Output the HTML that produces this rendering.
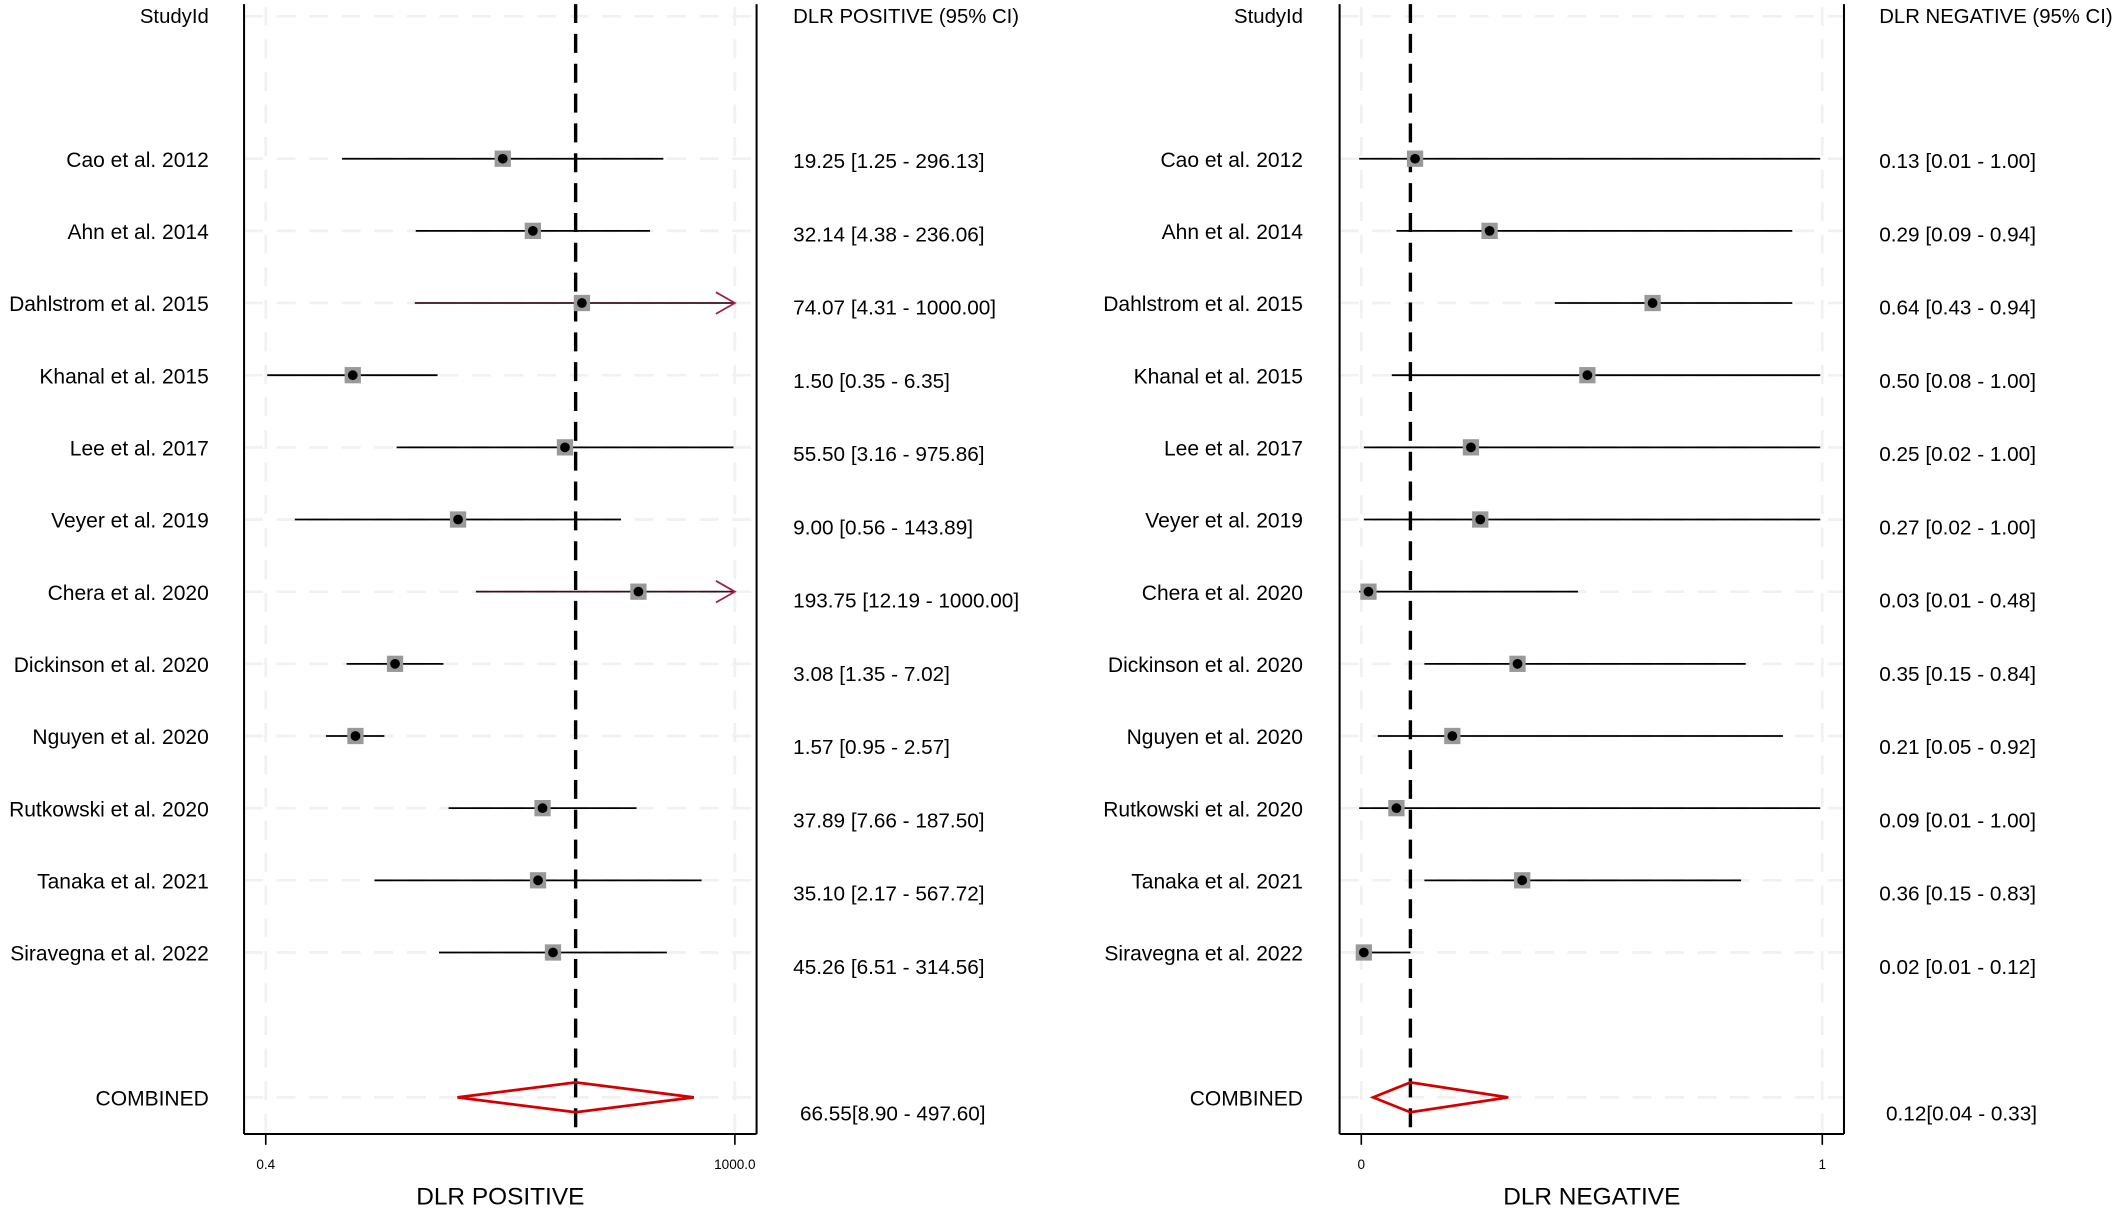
<!DOCTYPE html>
<html><head><meta charset="utf-8"><style>
html,body{margin:0;padding:0;background:#fff}
svg{display:block}
text{font-family:"Liberation Sans",sans-serif;fill:#000}
</style></head><body>
<svg id="chart" width="2126" height="1214" viewBox="0 0 1568 895" preserveAspectRatio="none" xmlns="http://www.w3.org/2000/svg"></svg>
<script>
const studies=["Cao et al. 2012","Ahn et al. 2014","Dahlstrom et al. 2015","Khanal et al. 2015","Lee et al. 2017","Veyer et al. 2019","Chera et al. 2020","Dickinson et al. 2020","Nguyen et al. 2020","Rutkowski et al. 2020","Tanaka et al. 2021","Siravegna et al. 2022"];
const posEst=[19.25,32.14,74.07,1.50,55.50,9.00,193.75,3.08,1.57,37.89,35.10,45.26];
const posLo=[1.25,4.38,4.31,0.35,3.16,0.56,12.19,1.35,0.95,7.66,2.17,6.51];
const posHi=[296.13,236.06,1000.00,6.35,975.86,143.89,1000.00,7.02,2.57,187.50,567.72,314.56];
const posComb=[66.55,8.90,497.60];
const negEst=[0.13,0.29,0.64,0.50,0.25,0.27,0.03,0.35,0.21,0.09,0.36,0.02];
const negLo=[0.01,0.09,0.43,0.08,0.02,0.02,0.01,0.15,0.05,0.01,0.15,0.01];
const negHi=[1.00,0.94,0.94,1.00,1.00,1.00,0.48,0.84,0.92,1.00,0.83,0.12];
const negComb=[0.12,0.04,0.33];
const posTicks=["0.4","1000.0"];
const negTicks=["0","1"];

const svg=document.getElementById('chart');
const NS="http://www.w3.org/2000/svg";
function el(tag,attrs,parent){const e=document.createElementNS(NS,tag);for(const k in attrs)e.setAttribute(k,attrs[k]);(parent||svg).appendChild(e);return e;}
function txt(s,x,y,size,anchor){const t=el('text',{x:x,y:y,'font-size':size,'text-anchor':anchor||'start'});t.textContent=s;return t;}
const rowY=i=>117+i*53.2;
const combY=809;
const xPos=v=>542-(3-Math.log10(v))*99.8;
const xNeg=v=>999+v*343.5;
const f2=v=>v.toFixed(2);

function panel(o){
  const g=el('g',{});
  
  
  const gc='#f1f1f1';
  for(let i=0;i<studies.length;i++){el('line',{x1:o.fx1,x2:o.fx2,y1:rowY(i),y2:rowY(i),stroke:gc,'stroke-width':2,'stroke-dasharray':'14 10'},g);}
  el('line',{x1:o.fx1,x2:o.fx2,y1:combY,y2:combY,stroke:gc,'stroke-width':2,'stroke-dasharray':'14 10'},g);
  el('line',{x1:o.fx1,x2:o.fx2,y1:12,y2:12,stroke:gc,'stroke-width':2,'stroke-dasharray':'14 10'},g);
  [o.t0,o.t1].forEach(x=>el('line',{x1:x,x2:x,y1:5,y2:836,stroke:gc,'stroke-width':2,'stroke-dasharray':'14 10'},g));
  el('line',{x1:o.fx1,x2:o.fx1,y1:3,y2:836,stroke:'#000','stroke-width':1.5},g);
  el('line',{x1:o.fx2,x2:o.fx2,y1:3,y2:836,stroke:'#000','stroke-width':1.5},g);
  el('line',{x1:o.fx1,x2:o.fx2,y1:836,y2:836,stroke:'#000','stroke-width':1.5},g);
  [o.t0,o.t1].forEach((x,k)=>{el('line',{x1:x,x2:x,y1:836,y2:844,stroke:'#000','stroke-width':1.2},g);const t=txt(o.ticks[k],x,862,10,'middle');});
  const rx=o.sx(o.comb[0]);
  el('line',{x1:rx,x2:rx,y1:3,y2:836,stroke:'#000','stroke-width':2.5,'stroke-dasharray':'14 8'},g);
  let t=txt('StudyId',o.lx,17,15,'end');
  t=txt(o.header,o.vx,17,15);
  for(let i=0;i<studies.length;i++){
    const y=rowY(i);
    const clipped=o.arrow&&o.hi[i]>=1000;
    const x1=o.sx(o.lo[i]),x2=o.sx(o.hi[i]);
    const ln=el('line',{x1:x1,x2:x2,y1:y,y2:y,stroke:clipped?'#3a1020':'#000','stroke-width':1.3},g);
    
    
    if(clipped){const a=el('polyline',{points:`${x2-14},${y-8} ${x2},${y} ${x2-14},${y+8}`,fill:'none',stroke:'#a0204a','stroke-width':1.3},g);}
    const mx=o.sx(o.est[i]);
    const sq=el('rect',{x:mx-6,y:y-6,width:12,height:12,fill:'#999'},g);
    
    
    const d=el('circle',{cx:mx,cy:y,r:3.6,fill:'#000'},g);
    
    
    t=txt(studies[i],o.lx,y+6,15.5,'end');
    t=txt(`${f2(o.est[i])} [${f2(o.lo[i])} - ${f2(o.hi[i])}]`,o.vx,y+7+i*0.8,15.3);
  }
  const cl=o.sx(o.comb[1]),cr=o.sx(o.comb[2]),cc=o.sx(o.comb[0]);
  const dm=el('polygon',{points:`${cl},${combY} ${cc},${combY-11} ${cr},${combY} ${cc},${combY+11}`,fill:'none',stroke:'#d40000','stroke-width':2},g);
  
  
  t=txt('COMBINED',o.lx,combY+6,15.5,'end');
  t=txt(o.combText,o.vx+5,combY+17,15.3);
  t=txt(o.title,(o.fx1+o.fx2)/2,888,18,'middle');
}
panel({name:'dlr-positive-panel',fx1:180,fx2:558,t0:196,t1:542,sx:xPos,ticks:posTicks,est:posEst,lo:posLo,hi:posHi,comb:posComb,arrow:true,lx:154,vx:585,header:'DLR POSITIVE (95% CI)',title:'DLR POSITIVE',combText:`${f2(posComb[0])}[${f2(posComb[1])} - ${f2(posComb[2])}]`});
panel({name:'dlr-negative-panel',fx1:988,fx2:1360,t0:1004,t1:1344,sx:xNeg,ticks:negTicks,est:negEst,lo:negLo,hi:negHi,comb:negComb,arrow:false,lx:961,vx:1386,header:'DLR NEGATIVE (95% CI)',title:'DLR NEGATIVE',combText:`${f2(negComb[0])}[${f2(negComb[1])} - ${f2(negComb[2])}]`});
</script>
</body></html>
